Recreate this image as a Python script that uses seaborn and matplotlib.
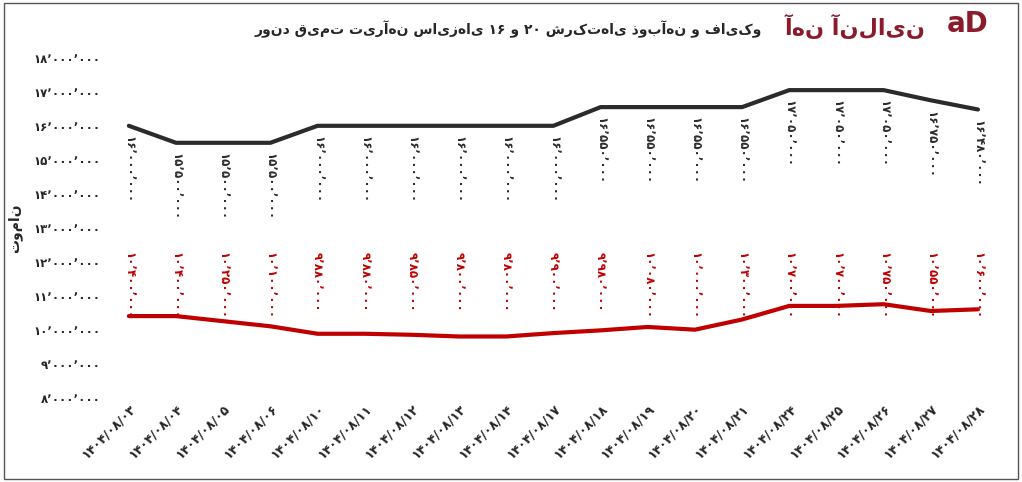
import numpy as np
import pandas as pd
import seaborn as sns
import matplotlib.pyplot as plt

dates = ["1404/08/03", "1404/08/04", "1404/08/05", "1404/08/06", "1404/08/10",
         "1404/08/11", "1404/08/12", "1404/08/13", "1404/08/14", "1404/08/17",
         "1404/08/18", "1404/08/19", "1404/08/20", "1404/08/21", "1404/08/24",
         "1404/08/25", "1404/08/26", "1404/08/27", "1404/08/28"]
size16 = [16000000, 15500000, 15500000, 15500000, 16000000, 16000000, 16000000,
          16000000, 16000000, 16000000, 16550000, 16550000, 16550000, 16550000,
          17050000, 17050000, 17050000, 16750000, 16480000]
size20 = [10400000, 10400000, 10250000, 10100000, 9880000, 9880000, 9850000,
          9800000, 9800000, 9900000, 9980000, 10080000, 10000000, 10300000,
          10700000, 10700000, 10750000, 10550000, 10600000]
yticks = list(range(8000000, 18000001, 1000000))

FA = str.maketrans("0123456789", "۰۱۲۳۴۵۶۷۸۹")

def fa_num(v):
    return f"{v:,}".translate(FA).replace(",", "٬")

sns.set_style("white")
plt.rcParams['font.family'] = ['DejaVu Sans']

df = pd.DataFrame({"i": range(len(dates)), "s16": size16, "s20": size20})

fig = plt.figure(figsize=(10.22, 4.82), dpi=100)
ax = fig.add_axes([0.103, 0.175, 0.877, 0.705])

sns.lineplot(data=df, x="i", y="s16", color="#2b2b2b", linewidth=3, ax=ax)
sns.lineplot(data=df, x="i", y="s20", color="#c00000", linewidth=3, ax=ax)

for i in range(len(dates)):
    ax.text(i, size16[i] - 300000, fa_num(size16[i]), rotation=270, ha="center",
            va="top", fontsize=8.5, fontweight="bold", color="#2b2b2b")
    ax.text(i, 12300000, fa_num(size20[i]), rotation=270, ha="center",
            va="top", fontsize=8.5, fontweight="bold", color="#c00000")

ax.set_xlim(-0.5, len(dates) - 0.5)
ax.set_ylim(8000000, 18000000)
ax.set_yticks(yticks)
ax.set_yticklabels([fa_num(v) for v in yticks], fontsize=8.5, fontweight="bold")
ax.set_xticks(range(len(dates)))
ax.set_xticklabels([d.translate(FA) for d in dates], rotation=45, ha="right",
                   rotation_mode="anchor", fontsize=9, fontweight="bold")
ax.set_xlabel("")
ax.set_ylabel("تومان", fontsize=10, fontweight="bold", labelpad=8)
for s in ax.spines.values():
    s.set_visible(False)
ax.tick_params(length=0)

fig.text(0.497, 0.94, "روند قیمت تیرآهن سایزهای ۱۶ و ۲۰ شرکت‌های ذوب‌آهن و فایکو",
         ha="center", va="center", fontsize=10, fontweight="bold")
fig.text(0.905, 0.945, "آهن آنلاین", ha="right", va="center",
         fontsize=16, fontweight="bold", color="#8b1a2b")
fig.text(0.967, 0.95, "aD", ha="right", va="center",
         fontsize=20, fontweight="bold", color="#8b1a2b")
fig.patches.append(plt.Rectangle((0.004, 0.006), 0.992, 0.988, transform=fig.transFigure,
                                 fill=False, edgecolor="#555555", linewidth=1))

fig.savefig("out.png", dpi=100)
